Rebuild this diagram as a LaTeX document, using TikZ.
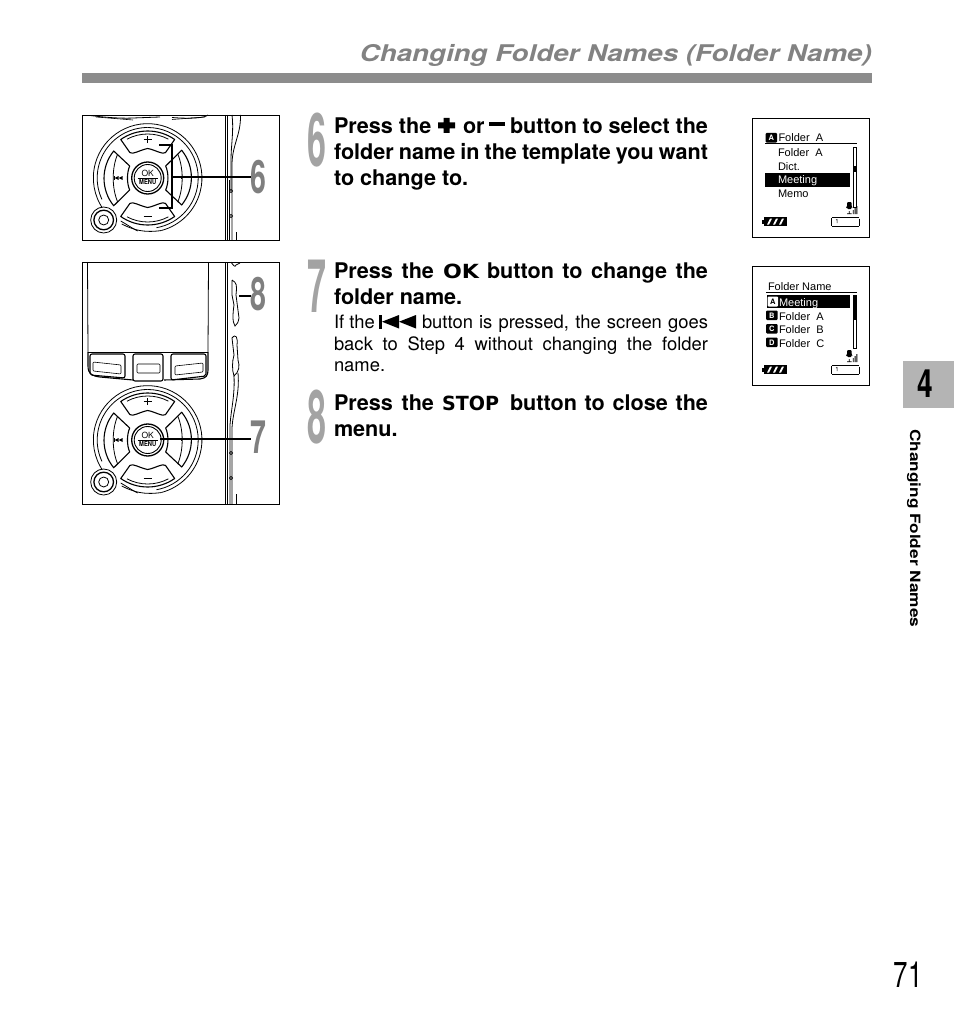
\documentclass[tikz,border=0pt]{standalone}
\usepackage{fontspec}
\usepackage{graphicx}
\setmainfont{TeX Gyre Heros}
\newfontfamily\wideb{DejaVu Sans}[BoldFont={DejaVu Sans Bold}]
\newfontfamily\lcdfont{Liberation Sans}
\usetikzlibrary{calc}
\definecolor{numgray}{HTML}{A3A3A3}
\definecolor{devgray}{HTML}{7F7F7F}
\definecolor{bargray}{HTML}{8C8C8C}
\definecolor{tabgray}{HTML}{B4B4B4}
\definecolor{headgray}{HTML}{828282}
\tikzset{
  pagebg/.style={fill=white,draw=none},
  frame/.style={draw=black,line width=0.8pt,fill=white},
  stepb/.style={anchor=base west,inner sep=0pt,outer sep=0pt,font=\fontsize{21.6}{26}\selectfont\bfseries},
  stepn/.style={anchor=base west,inner sep=0pt,outer sep=0pt,font=\fontsize{18.4}{22}\selectfont},
  lcd/.style={anchor=base west,inner sep=0pt,outer sep=0pt,font=\lcdfont\fontsize{11}{12}\selectfont},
  lcdw/.style={lcd,text=white},
  bign/.style={anchor=base,inner sep=0pt,outer sep=0pt,text=numgray,font=\fontsize{74}{74}\selectfont\bfseries},
  devn/.style={anchor=base,inner sep=0pt,outer sep=0pt,text=devgray,font=\fontsize{46}{46}\selectfont\bfseries},
  ln/.style={line width=0.8pt,black},
  thin2/.style={line width=0.6pt,black},
  call/.style={line width=1.2pt,black},
}
% dial; local coordinates have y up
\newcommand{\dialdraw}{%
  \draw[ln] (14,52.5) arc[start angle=75,end angle=-75,radius=54.3] ;
  \draw[ln] (14,-52.5) .. controls (-4,-55) and (-14,-52) .. (-26,-46) ;
  \draw[ln] (-10,-53) .. controls (-16,-50) and (-20,-47) .. (-27,-43);
  \draw[ln] (14,52.5) arc[start angle=75,end angle=215,radius=54.3];
  \draw[ln] (0,50.5) arc[start angle=90,end angle=-80,radius=50.5];
  \draw[ln] (0,50.5) arc[start angle=90,end angle=205,radius=50.5];
  \draw[ln,fill=white] (-44,-42) circle[radius=13];
  \draw[line width=1.3pt] (-44,-42) circle[radius=9.8];
  \draw[ln] (-44,-42) circle[radius=5];
  % buttons
  \foreach \r/\a in {0/55,180/55}{
    \begin{scope}[rotate=\r]
      \draw[line width=1.1pt,line join=round] (125:47) arc[start angle=125,end angle=55,radius=47] -- (55:31)
         .. controls (15,23) and (8,28) .. (0,29.5) .. controls (-8,28) and (-15,23) .. (125:31) -- cycle;
      \draw[ln] (118:44) arc[start angle=118,end angle=62,radius=44];
    \end{scope}}
  \foreach \r in {0,180}{
    \begin{scope}[rotate=\r]
      \draw[line width=1.1pt,line join=round] (-34,27) arc[start angle=141,end angle=219,radius=43.5]
         -- (-18,-12) .. controls (-21,-5) and (-21,5) .. (-18,12) -- cycle;
      \draw[ln] (-30,24) .. controls (-36,10) and (-36,-10) .. (-30,-24);
    \end{scope}}
  \draw[line width=1.3pt,fill=white] (0,0) circle[radius=16];
  \draw[line width=0.9pt] (0,0) circle[radius=13.5];
  \draw[line width=0.8pt] (-10,0) -- (10,0);
  \node[inner sep=0pt,font=\fontsize{8.5}{8}\selectfont] (oktxt) at (0,4.6) {OK};
  \node[inner sep=0pt,font=\fontsize{6.8}{7}\selectfont\bfseries] (menutxt) at (0,-4.5) {\scalebox{0.85}[1]{MENU}};
  \draw[line width=1.4pt] (0,35) -- (0,42) (-4,38.5) -- (4,38.5);
  \draw[line width=1.4pt] (-4,-38.5) -- (4,-38.5);
  \fill (-34,-1.6) rectangle (-33.2,1.6);
  \fill (-33.2,0) -- (-29,2) -- (-29,-2) -- cycle;
  \fill (-29,0) -- (-25,2) -- (-25,-2) -- cycle;
  \draw[line width=0.9pt] (28,2) -- (34,2) (34,2) -- (34,-1);
}
\newcommand{\lcdicon}[3]{% x, top y, letter
  \fill[black,rounded corners=1pt] (#1,#2) rectangle ++(11.5,9.5);
  \node[inner sep=0pt,text=white,font=\fontsize{7.5}{8}\selectfont\bfseries] at (#1+5.75,#2+4.9) {#3};
}
\newcommand{\lcdstatus}[1]{% y of box top
  \fill (762,#1+2.5) rectangle (764,#1+6.5);
  \fill[black] (764,#1) rectangle (787,#1+9);
  \foreach \dx in {767,773,779}{\fill[white] (\dx,#1+7.5) -- (\dx+2,#1+7.5) -- (\dx+5,#1+1.5) -- (\dx+3,#1+1.5) -- cycle;}
  \draw[line width=0.5pt] (832,#1+0.5) -- (859,#1+0.5) (832,#1+9) -- (859,#1+9);
  \draw[line width=1.1pt] (831.5,#1+0.5) -- (831.5,#1+9) (859.8,#1+1.5)--(859.8,#1+9);
  \draw[line width=0.5pt] (836,#1+3) -- (837,#1+2.5) -- (837,#1+6);
  \fill[rounded corners=1pt] (847,#1-15) rectangle (851.5,#1-8);
  \draw[line width=0.8pt] (846.5,#1-9) arc[start angle=180,end angle=360,radius=2.8] (849.3,#1-6) -- (849.3,#1-3.5) (847,#1-3.2)--(851.5,#1-3.2);
  \fill (852.8,#1-7) rectangle (853.7,#1-3) (854.6,#1-9) rectangle (855.5,#1-3) (856.4,#1-11) rectangle (857.3,#1-3);
}
\begin{document}
\begin{tikzpicture}[x=1pt,y=-1pt]
\useasboundingbox (0,0) rectangle (954,1022);
\fill[pagebg] (0,0) rectangle (954,1022);
% header
\node[anchor=base east,inner sep=0pt,text=headgray] (header) at (872,62)
  {\resizebox{512pt}{\height}{\fontsize{23}{26}\selectfont\bfseries\itshape Changing Folder Names (Folder Name)}};
\fill[bargray] (82,73) rectangle (872,83);
% tab
\fill[tabgray] (903,361) rectangle (954,408);
\node[anchor=base,inner sep=0pt] (tabn) at (925,397) {\scalebox{0.72}[1]{\fontsize{39}{39}\selectfont\bfseries 4}};
\node[anchor=base west,inner sep=0pt,rotate=-90] (side) at (910,429)
  {\resizebox{198pt}{\height}{\fontsize{14.2}{16}\selectfont\bfseries Changing Folder Names}};
\node[anchor=base,inner sep=0pt] (page) at (908,987) {\scalebox{0.72}[1]{\fontsize{36}{36}\selectfont 71}};

% device 6
\draw[frame] (82,115) rectangle (279,240);
\begin{scope}[shift={(147.7,178)},x=1pt,y=1pt]\dialdraw\end{scope}
\draw[ln] (90,115.5) .. controls (110,118) and (125,118.5) .. (133,118) -- (160,117);
\draw[ln] (172,117.5) .. controls (190,119) and (205,118) .. (208,115);
\draw[thin2] (96,117) -- (133,120) (172,119.5) -- (205,117);
\draw[ln] (225,115) -- (225,240);
\draw[ln] (227.5,115) -- (227.5,240);
\draw[ln] (232,115) .. controls (234,130) and (231,145) .. (231,160) -- (231,191);
\draw[ln] (240.5,115) .. controls (241,135) and (232,145) .. (232,165) -- (232,240);
\draw[ln] (229,180) -- (229,240);
\draw[ln] (231,191) circle[radius=1.6] (231,216) circle[radius=1.6];
\draw[ln] (236,232) -- (236,240);
\coordinate (b6t) at (159,145); \coordinate (b6c) at (172,145);
\coordinate (b6d) at (172,208); \coordinate (b6b) at (159,208);
\coordinate (l6) at (172,177);
\node[devn] (d6) at (258.5,193) {\scalebox{0.62}[1]{6}};
\draw[call,fill=none] (b6t) -- (b6c) -- (b6d) -- (b6b);
\draw[call] (l6) -- (d6.west |- l6);

% device 7/8
\draw[frame] (82,262) rectangle (279,504);
\begin{scope}[shift={(147.7,440)},x=1pt,y=1pt]\dialdraw\end{scope}
\draw[ln] (87.5,262) -- (88,352) (208.5,262) -- (208,352);
\draw[ln] (88,352) -- (208,352);
\draw[line width=1.1pt] (88,352) -- (88,366) .. controls (88,374) and (92,376) .. (100,377) -- (133,380) (164,380) -- (200,379) .. controls (206,378) and (208,376) .. (208,370) -- (208,352);
\draw[line width=1.1pt,rounded corners=2pt] (90,354) -- (125,354) -- (125,378) -- (90,375) -- cycle;
\draw[thin2,rounded corners=1pt] (93,362) -- (121,365) -- (121,374) -- (93,371) -- cycle;
\draw[line width=1.1pt,rounded corners=2pt] (133,354) rectangle (163,381);
\draw[thin2,rounded corners=1pt] (137,364) rectangle (160,373);
\draw[line width=1.1pt,rounded corners=2pt] (171,354) -- (206,354) -- (206,376) -- (171,380) -- cycle;
\draw[thin2,rounded corners=1pt] (175,366) -- (203,363) -- (203,372) -- (175,375) -- cycle;
\draw[ln] (225,262) -- (225,504);
\draw[ln] (227.5,262) -- (227.5,504);
\draw[ln] (231,262) .. controls (233,265) and (235,268) .. (236,265) -- (240,263);
\draw[ln] (232,280) .. controls (237,283) and (237,285) .. (236,295) -- (239,318) .. controls (238,322) and (238,324) .. (235,326) .. controls (232,322) and (233,312) .. (234,305) -- (232,295) -- (232,280);
\draw[ln] (232,338) .. controls (236,333) and (238,338) .. (237,345) -- (238,360) .. controls (240,366) and (239,372) .. (234,376) .. controls (232,370) and (232,362) .. (234,355) -- (232,338);
\draw[ln] (238,373) .. controls (240,395) and (233,410) .. (232,428) -- (232,504);
\draw[ln] (234,376) .. controls (235,395) and (231,410) .. (230,425) -- (230,504);
\draw[ln] (231,453) circle[radius=1.6] (231,478) circle[radius=1.6];
\draw[ln] (236,494) -- (236,504);
\coordinate (l7) at (160,439);
\coordinate (l8) at (239,296);
\node[devn] (d8) at (258.5,310) {\scalebox{0.62}[1]{8}};
\node[devn] (d7) at (258.5,453) {\scalebox{0.62}[1]{7}};
\draw[call] (l7) -- (d7.west |- l7);
\draw[call] (l8) -- (d8.west |- l8);

% step numbers
\node[bign] (n6) at (317,166) {\scalebox{0.46}[1]{6}};
\node[bign] (n7) at (317,312) {\scalebox{0.46}[1]{7}};
\node[bign] (n8) at (317,443) {\scalebox{0.46}[1]{8}};

% step 6 text
\node[stepb] (s6a) at (334,133) {Press the};
\fill (443.5,118) rectangle (449.5,133) (438,122.5) rectangle (455,128.5);
\node[stepb] (s6b) at (463,133) {or};
\fill (489,122) rectangle (505,126.5);
\node[stepb] (s6c) at (510,133) {\makebox[198pt][s]{button to select the}};
\node[stepb] (s6d) at (334,159) {\makebox[374pt][s]{folder name in the template you want}};
\node[stepb] (s6e) at (334,185) {to change to.};

% step 7 text
\node[stepb] (s7a) at (334,278) {\makebox[100pt][s]{Press the}};
\node[stepb] (s7ok) at (443,278) {\wideb\resizebox{36pt}{\height}{\fontsize{19.5}{20}\selectfont OK}};
\node[stepb] (s7b) at (487,278) {\makebox[221pt][s]{button to change the}};
\node[stepb] (s7c) at (334,304) {folder name.};
\node[stepn] (s7d) at (334,328) {If the};
\fill (379,315) rectangle (382,328.5);
\fill (382,321.7) -- (399,315) -- (399,328.5) -- cycle;
\fill (399,321.7) -- (416,315) -- (416,328.5) -- cycle;
\node[stepn] (s7e) at (422,328) {\makebox[286pt][s]{button is pressed, the screen goes}};
\node[stepn] (s7f) at (334,350) {\makebox[374pt][s]{back to Step 4 without changing the folder}};
\node[stepn] (s7g) at (334,371) {name.};

% step 8 text
\node[stepb] (s8a) at (334,410) {\makebox[100pt][s]{Press the}};
\node[stepb] (s8stop) at (442,410) {\wideb\resizebox{57pt}{\height}{\fontsize{19.5}{20}\selectfont STOP}};
\node[stepb] (s8b) at (510,410) {\makebox[198pt][s]{button to close the}};
\node[stepb] (s8c) at (334,436) {menu.};

% LCD 1
\draw[frame] (752,118) rectangle (869,237);
\lcdicon{765.5}{133}{A}
\node[lcd] (l1t) at (778.5,142) {Folder\ \ A};
\draw[line width=0.8pt] (765,143.7) -- (857,143.7);
\node[lcd] (l1a) at (778,157) {Folder\ \ A};
\node[lcd] (l1b) at (778,170) {Dict.};
\fill (765,173.3) rectangle (850,186.7);
\node[lcdw] (l1c) at (778,183.5) {Meeting};
\node[lcd] (l1d) at (778,197) {Memo};
\draw[line width=0.7pt] (853.5,147) rectangle (856.5,207);
\fill (853.5,166) rectangle (856.5,172);
\lcdstatus{217}

% LCD 2
\draw[frame] (752,266) rectangle (869,385);
\node[lcd] (l2t) at (768,290.5) {Folder Name};
\draw[line width=0.8pt] (766,292.7) -- (857,292.7);
\fill (767,295) rectangle (850,308);
\fill[white,rounded corners=1pt] (767.5,296.5) rectangle (778,306.5);
\node[inner sep=0pt,font=\fontsize{7.5}{8}\selectfont\bfseries] at (772.8,301.5) {A};
\node[lcdw] (l2a) at (779,306) {Meeting};
\lcdicon{766}{310.5}{B}
\node[lcd] (l2b) at (779,320) {Folder\ \ A};
\lcdicon{766}{324}{C}
\node[lcd] (l2c) at (779,333.5) {Folder\ \ B};
\lcdicon{766}{337.5}{D}
\node[lcd] (l2d) at (779,347) {Folder\ \ C};
\draw[line width=0.7pt] (853.5,295) rectangle (856.5,348);
\fill (853.5,295) rectangle (856.5,320);
\lcdstatus{365}
\end{tikzpicture}
\end{document}
